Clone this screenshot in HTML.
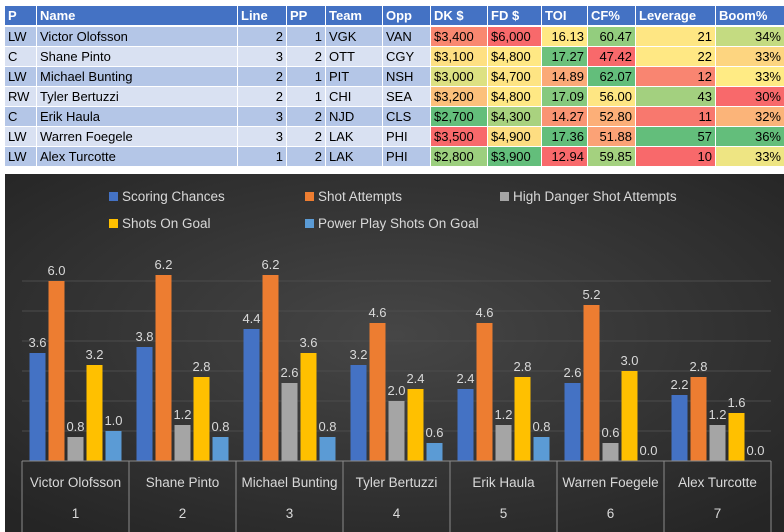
<!DOCTYPE html>
<html><head><meta charset="utf-8">
<style>
body{margin:0;width:784px;height:532px;background:#fff;position:relative;overflow:hidden;font-family:"Liberation Sans",sans-serif;}
#tbl{position:absolute;left:5px;top:6px;}
.c{position:absolute;height:19px;line-height:19px;font-size:13px;color:#000;box-sizing:border-box;padding:0 3px;white-space:nowrap;}
.h{background:#4472c4;color:#fff;font-weight:bold;}
.r{text-align:right;}
svg{position:absolute;left:0;top:0;}
</style></head><body>
<div id="tbl"></div>
<svg id="chart" width="784" height="532">
<defs>
<radialGradient id="bg" cx="50%" cy="45%" r="70%"><stop offset="0" stop-color="#464646"/><stop offset="1" stop-color="#252525"/></radialGradient>
</defs>
<rect x="5" y="174" width="779" height="358" fill="url(#bg)"/>
<g id="grid"></g><g id="bars"></g><g id="axis"></g><g id="legend"></g>
</svg>
<script>
// table data
const headers=["P","Name","Line","PP","Team","Opp","DK $","FD $","TOI","CF%","Leverage","Boom%"];
const colX=[0,32,233,282,321,378,426,483,537,583,631,711];
const colW=[31,200,48,38,56,47,56,53,45,47,79,68];
const rightAlign=[false,false,true,true,false,false,false,false,true,true,true,true];
const rows=[
["LW","Victor Olofsson","2","1","VGK","VAN","$3,400","$6,000","16.13","60.47","21","34%"],
["C","Shane Pinto","3","2","OTT","CGY","$3,100","$4,800","17.27","47.42","22","33%"],
["LW","Michael Bunting","2","1","PIT","NSH","$3,000","$4,700","14.89","62.07","12","33%"],
["RW","Tyler Bertuzzi","2","1","CHI","SEA","$3,200","$4,800","17.09","56.00","43","30%"],
["C","Erik Haula","3","2","NJD","CLS","$2,700","$4,300","14.27","52.80","11","32%"],
["LW","Warren Foegele","3","2","LAK","PHI","$3,500","$4,900","17.36","51.88","57","36%"],
["LW","Alex Turcotte","1","2","LAK","PHI","$2,800","$3,900","12.94","59.85","10","33%"]];
const cellColors=[
["#f98870","#f8696b","#ffe884","#93cd7e","#fee683","#c4db81"],
["#fee082","#ffe884","#6cc17c","#f8696b","#ffe884","#fdd580"],
["#dde182","#fee483","#fba977","#63be7b","#f98571","#ffeb84"],
["#fcc07b","#ffe884","#86c97e","#fee683","#a3d07f","#f8696b"],
["#63be7b","#a9d27f","#fa9473","#fcaf78","#f8786e","#fbb479"],
["#f8696b","#fedd81","#63be7b","#fba276","#63be7b","#63be7b"],
["#9ccf7e","#63be7b","#f8696b","#a4d17f","#f8696b","#eee583"]];
const tbl=document.getElementById('tbl');
function mk(txt,x,y,w,cls,bg){const d=document.createElement('div');d.className=cls;d.style.left=x+'px';d.style.top=y+'px';d.style.width=w+'px';if(bg)d.style.background=bg;d.textContent=txt;tbl.appendChild(d);return d;}
headers.forEach((h,i)=>{const d=mk(h,colX[i],0,colW[i],'c h');

});
rows.forEach((r,ri)=>{r.forEach((v,ci)=>{let bg=ri%2?'#d9e1f2':'#b4c6e7';if(ci>=6)bg=cellColors[ri][ci-6];
const d=mk(v,colX[ci],21+ri*20,colW[ci],'c'+(rightAlign[ci]?' r':''),bg);

});});

// chart data
const players=["Victor Olofsson","Shane Pinto","Michael Bunting","Tyler Bertuzzi","Erik Haula","Warren Foegele","Alex Turcotte"];
const ranks=["1","2","3","4","5","6","7"];
const seriesNames=["Scoring Chances","Shot Attempts","High Danger Shot Attempts","Shots On Goal","Power Play Shots On Goal"];
const scoringChances=[3.6,3.8,4.4,3.2,2.4,2.6,2.2];
const shotAttempts=[6.0,6.2,6.2,4.6,4.6,5.2,2.8];
const highDanger=[0.8,1.2,2.6,2.0,1.2,0.6,1.2];
const shotsOnGoal=[3.2,2.8,3.6,2.4,2.8,3.0,1.6];
const ppShots=[1.0,0.8,0.8,0.6,0.8,0.0,0.0];
const series=[scoringChances,shotAttempts,highDanger,shotsOnGoal,ppShots];
const colors=["#4472c4","#ed7d31","#a5a5a5","#ffc000","#5b9bd5"];
const NS="http://www.w3.org/2000/svg";
const x0=22,catW=107,base=461,unit=30,barW=16,gap=3;
const yScale=v=>base-v*unit;
const xBar=(c,s)=>x0+c*catW+(catW-(5*barW+4*gap))/2+s*(barW+gap);
function el(tag,attrs,parent,txt){const e=document.createElementNS(NS,tag);for(const k in attrs)e.setAttribute(k,attrs[k]);if(txt!==undefined)e.textContent=txt;parent.appendChild(e);return e;}
const grid=document.getElementById('grid');
for(let g=1;g<=6;g++){const l=el('line',{x1:x0,x2:x0+7*catW,y1:yScale(g),y2:yScale(g),stroke:'#4c4c4c','stroke-width':1},grid);

}
const bars=document.getElementById('bars');
series.forEach((vals,s)=>{vals.forEach((v,c)=>{const x=xBar(c,s);
const r=el('rect',{x:x,y:yScale(v),width:barW,height:v*unit,fill:colors[s]},bars);


const t=el('text',{x:x+barW/2,y:yScale(v)-6,'text-anchor':'middle','font-size':13,fill:'#d9d9d9'},bars,v.toFixed(1));

});});
const axis=document.getElementById('axis');
el('line',{x1:x0,x2:x0+7*catW,y1:base,y2:base,stroke:'#8a8a8a'},axis);
for(let c=0;c<=7;c++){el('line',{x1:x0+c*catW,x2:x0+c*catW,y1:base,y2:532,stroke:'#8a8a8a'},axis);}
players.forEach((p,c)=>{const t=el('text',{x:x0+c*catW+catW/2,y:487,'text-anchor':'middle','font-size':13.5,fill:'#d9d9d9'},axis,p);


const n=el('text',{x:x0+c*catW+catW/2,y:518,'text-anchor':'middle','font-size':13.5,fill:'#d9d9d9'},axis,ranks[c]);

});
const leg=document.getElementById('legend');
const legPos=[[109,197],[305,197],[500,197],[109,224],[305,224]];
seriesNames.forEach((n,i)=>{const g=el('g',{},leg);


el('rect',{x:legPos[i][0],y:legPos[i][1]-5,width:9,height:9,fill:colors[i]},g);
el('text',{x:legPos[i][0]+13,y:legPos[i][1]+4,'font-size':13.5,fill:'#d9d9d9'},g,n);});
</script>
</body></html>
